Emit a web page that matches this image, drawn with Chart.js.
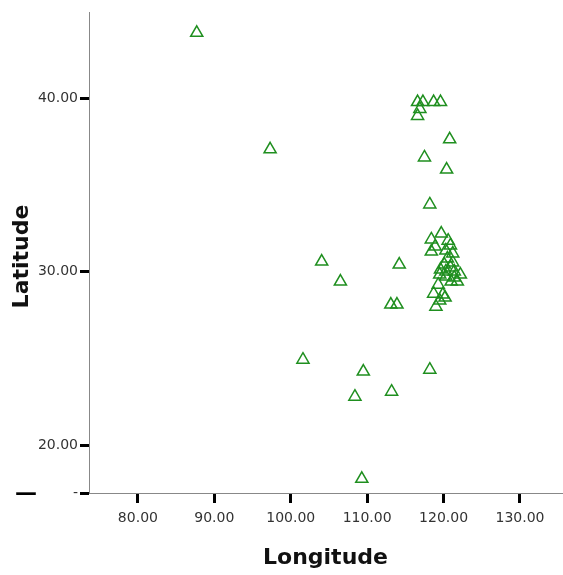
<!DOCTYPE html>
<html><head><meta charset="utf-8">
<script src="https://cdn.jsdelivr.net/npm/chart.js@4"></script>
<style>html,body{margin:0;padding:0;background:#fff}#wrap{width:563px;height:575px}</style>
</head><body><div id="wrap"><canvas id="c" width="563" height="575"></canvas></div>
<script>
const longitude = [87.7,97.3,104.05,106.5,101.6,109.5,108.4,113.2,109.3,113.1,113.9,114.2,118.2,117.5,120.4,120.8,118.2,116.6,117.3,118.7,119.6,116.9,116.6,
 119.7,118.4,120.6,118.9,120.9,118.4,120.3,121.2,120.5,121.2,120.1,119.6,120.9,120.3,121.4,119.5,120.3,121.4,122.2,121.0,121.8,119.3,118.7,119.9,120.2,119.5,119.0];
const latitude = [43.9,37.17,30.69,29.54,25.03,24.34,22.89,23.18,18.15,28.21,28.21,30.52,24.45,36.7,36.0,37.75,33.99,39.9,39.9,39.9,39.9,39.5,39.1,
 32.31,31.97,31.9,31.56,31.62,31.27,31.33,31.16,30.87,30.64,30.52,30.23,30.35,30.12,30.12,29.94,29.83,29.77,29.94,29.54,29.54,29.36,28.84,28.79,28.61,28.44,28.09];
const xTicks = [80,90,100,110,120,130];
const yTicks = [20,30,40];
const xRange = [73.6,135.5];
const yRange = [17.23,45.0];
const xTitle = 'Longitude';
const yTitle = 'Latitude';

const pts = longitude.map((x,i)=>({x:x,y:latitude[i]-0.1}));
const extraText = {
  id:'extraText',
  afterDraw(chart){
    const ctx=chart.ctx; ctx.save();
    ctx.fillStyle='#000'; ctx.font='bold 22px "DejaVu Sans"'; ctx.textAlign='left'; ctx.textBaseline='middle';
    ctx.fillText('—',15,chart.chartArea.bottom+1);
    ctx.translate(22,(chart.chartArea.top+chart.chartArea.bottom)/2+4);
    ctx.rotate(-Math.PI/2);
    ctx.fillStyle='#111'; ctx.textAlign='center';
    ctx.fillText(yTitle,0,0);
    ctx.restore();
  }
};
new Chart(document.getElementById('c'),{
  type:'scatter',
  data:{datasets:[{data:pts,pointStyle:'triangle',radius:7,hoverRadius:7,borderColor:'#1f8f1f',backgroundColor:'rgba(0,0,0,0)',borderWidth:1.5}]},
  plugins:[extraText],
  options:{
    responsive:false,animation:false,
    layout:{autoPadding:false,padding:{top:12,right:1,left:0,bottom:0}},
    plugins:{legend:{display:false},tooltip:{enabled:false}},
    scales:{
      x:{type:'linear',min:xRange[0],max:xRange[1],
        afterBuildTicks:s=>{s.ticks=xTicks.map(v=>({value:v}));},
        afterFit:s=>{s.height=82;s.paddingLeft=0;s.paddingRight=0;},
        ticks:{callback:v=>v.toFixed(2),color:'#333',font:{family:'DejaVu Sans',size:14},padding:7,maxRotation:0,autoSkip:false},
        grid:{drawOnChartArea:false,drawTicks:true,tickLength:10,tickWidth:3,tickColor:'#000'},
        border:{display:true,color:'#888',width:1},
        title:{display:true,text:xTitle,color:'#111',font:{family:'DejaVu Sans',size:22,weight:'bold'},padding:{top:12}}
      },
      y:{type:'linear',min:yRange[0],max:yRange[1],
        afterBuildTicks:s=>{s.ticks=[{value:yRange[0]}].concat(yTicks.map(v=>({value:v})));},
        afterFit:s=>{s.width=89;s.paddingTop=0;s.paddingBottom=0;},
        ticks:{callback:v=>v<19?'-':v.toFixed(2),color:'#333',font:{family:'DejaVu Sans',size:14},padding:2,autoSkip:false},
        grid:{drawOnChartArea:false,drawTicks:true,tickLength:9,tickWidth:3,tickColor:'#000'},
        border:{display:true,color:'#888',width:1},
        title:{display:false}
      }
    }
  }
});
</script></body></html>
